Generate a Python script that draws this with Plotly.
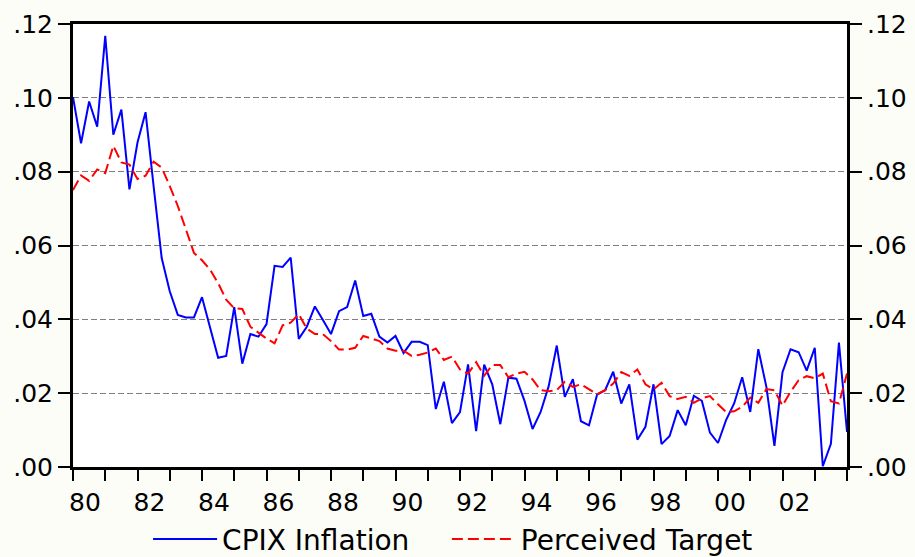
import plotly.graph_objects as go

# Quarterly observations 1980Q1 .. 2004Q1
start_year = 1980
cpix_inflation = [
    0.1002, 0.0877, 0.0990, 0.0922, 0.1168, 0.0900, 0.0968, 0.0752, 0.0879, 0.0961,
    0.0760, 0.0566, 0.0476, 0.0412, 0.0405, 0.0405, 0.0460, 0.0376, 0.0296, 0.0301,
    0.0433, 0.0280, 0.0360, 0.0353, 0.0387, 0.0545, 0.0542, 0.0567, 0.0347, 0.0380,
    0.0435, 0.0398, 0.0360, 0.0422, 0.0433, 0.0505, 0.0409, 0.0415, 0.0353, 0.0337,
    0.0355, 0.0309, 0.0339, 0.0339, 0.0330, 0.0157, 0.0231, 0.0119, 0.0149, 0.0278,
    0.0097, 0.0277, 0.0224, 0.0116, 0.0242, 0.0239, 0.0179, 0.0103, 0.0149, 0.0219,
    0.0329, 0.0190, 0.0238, 0.0124, 0.0113, 0.0196, 0.0208, 0.0258, 0.0172, 0.0224,
    0.0074, 0.0109, 0.0224, 0.0062, 0.0084, 0.0154, 0.0113, 0.0193, 0.0179, 0.0093,
    0.0065, 0.0127, 0.0172, 0.0243, 0.0149, 0.0319, 0.0217, 0.0057, 0.0257, 0.0319,
    0.0311, 0.0261, 0.0323, 0.0002, 0.0063, 0.0337, 0.0095,
]
perceived_target = [
    0.0750, 0.0790, 0.0775, 0.0806, 0.0796, 0.0870, 0.0825, 0.0819, 0.0780, 0.0789,
    0.0827, 0.0811, 0.0761, 0.0707, 0.0644, 0.0580, 0.0560, 0.0535, 0.0498, 0.0453,
    0.0430, 0.0428, 0.0380, 0.0364, 0.0348, 0.0335, 0.0384, 0.0391, 0.0414, 0.0375,
    0.0360, 0.0360, 0.0341, 0.0318, 0.0318, 0.0323, 0.0355, 0.0348, 0.0341, 0.0321,
    0.0315, 0.0315, 0.0301, 0.0304, 0.0310, 0.0321, 0.0290, 0.0299, 0.0264, 0.0253,
    0.0284, 0.0247, 0.0276, 0.0276, 0.0243, 0.0253, 0.0258, 0.0237, 0.0208, 0.0205,
    0.0208, 0.0231, 0.0217, 0.0224, 0.0210, 0.0197, 0.0208, 0.0226, 0.0257, 0.0247,
    0.0264, 0.0224, 0.0210, 0.0228, 0.0192, 0.0184, 0.0190, 0.0174, 0.0186, 0.0192,
    0.0170, 0.0149, 0.0151, 0.0163, 0.0188, 0.0174, 0.0211, 0.0208, 0.0166, 0.0204,
    0.0235, 0.0246, 0.0240, 0.0253, 0.0178, 0.0172, 0.0253,
]
x_tick_vals = [1980, 1982, 1984, 1986, 1988, 1990, 1992, 1994, 1996, 1998, 2000, 2002]
x_tick_text = ["80", "82", "84", "86", "88", "90", "92", "94", "96", "98", "00", "02"]
y_tick_vals = [0.00, 0.02, 0.04, 0.06, 0.08, 0.10, 0.12]
y_tick_text = [".00", ".02", ".04", ".06", ".08", ".10", ".12"]

quarters = [start_year + q / 4 for q in range(len(cpix_inflation))]

FONT = "DejaVu Sans, Arial, sans-serif"

fig = go.Figure()
fig.add_trace(go.Scatter(
    x=quarters, y=cpix_inflation, mode="lines", name="CPIX Inflation",
    line=dict(color="#0000FF", width=2), legend="legend",
))
fig.add_trace(go.Scatter(
    x=quarters, y=perceived_target, mode="lines", name="Perceived Target",
    line=dict(color="#FF0000", width=2, dash="11px,5px"), yaxis="y2",
    legend="legend2",
))

yax_common = dict(
    range=[0, 0.12], tickmode="array", tickvals=y_tick_vals, ticktext=y_tick_text,
    ticks="outside", ticklen=12, tickwidth=1.5, tickcolor="black",
    tickfont=dict(family=FONT, size=25, color="black"),
    zeroline=False, fixedrange=True,
)

legend_common = dict(
    orientation="h", xanchor="left", y=-0.163, yanchor="middle",
    font=dict(family=FONT, size=28, color="black"),
    itemwidth=64, bgcolor="rgba(0,0,0,0)",
)

fig.update_layout(
    width=915, height=557,
    margin=dict(l=73, r=68, t=24, b=90, autoexpand=False),
    paper_bgcolor="#FDFDF8", plot_bgcolor="white",
    showlegend=True,
    legend=dict(**legend_common, x=0.097),
    legend2=dict(**legend_common, x=0.483),
    xaxis=dict(
        range=[1980, 2004], tickmode="array", tickvals=x_tick_vals, ticktext=x_tick_text,
        ticks="outside", ticklen=11, tickwidth=1.5, tickcolor="black",
        minor=dict(ticks="outside", ticklen=11, tickwidth=1.5, tickcolor="black",
                   tickmode="linear", tick0=1980, dtick=1, showgrid=False),
        ticklabelshift=12,
        tickfont=dict(family=FONT, size=25, color="black"),
        showline=True, linewidth=3, linecolor="black", mirror=True,
        showgrid=False, zeroline=False,
    ),
    yaxis=dict(
        **yax_common,
        side="left",
        showline=True, linewidth=3, linecolor="black", mirror=True,
        showgrid=True, gridcolor="#7F7F7F", gridwidth=1.2, griddash="6px,3px",
    ),
    yaxis2=dict(
        **yax_common,
        side="right", overlaying="y",
        showline=True, linewidth=3, linecolor="black",
        showgrid=False,
    ),
)

fig.write_html("out.html")
